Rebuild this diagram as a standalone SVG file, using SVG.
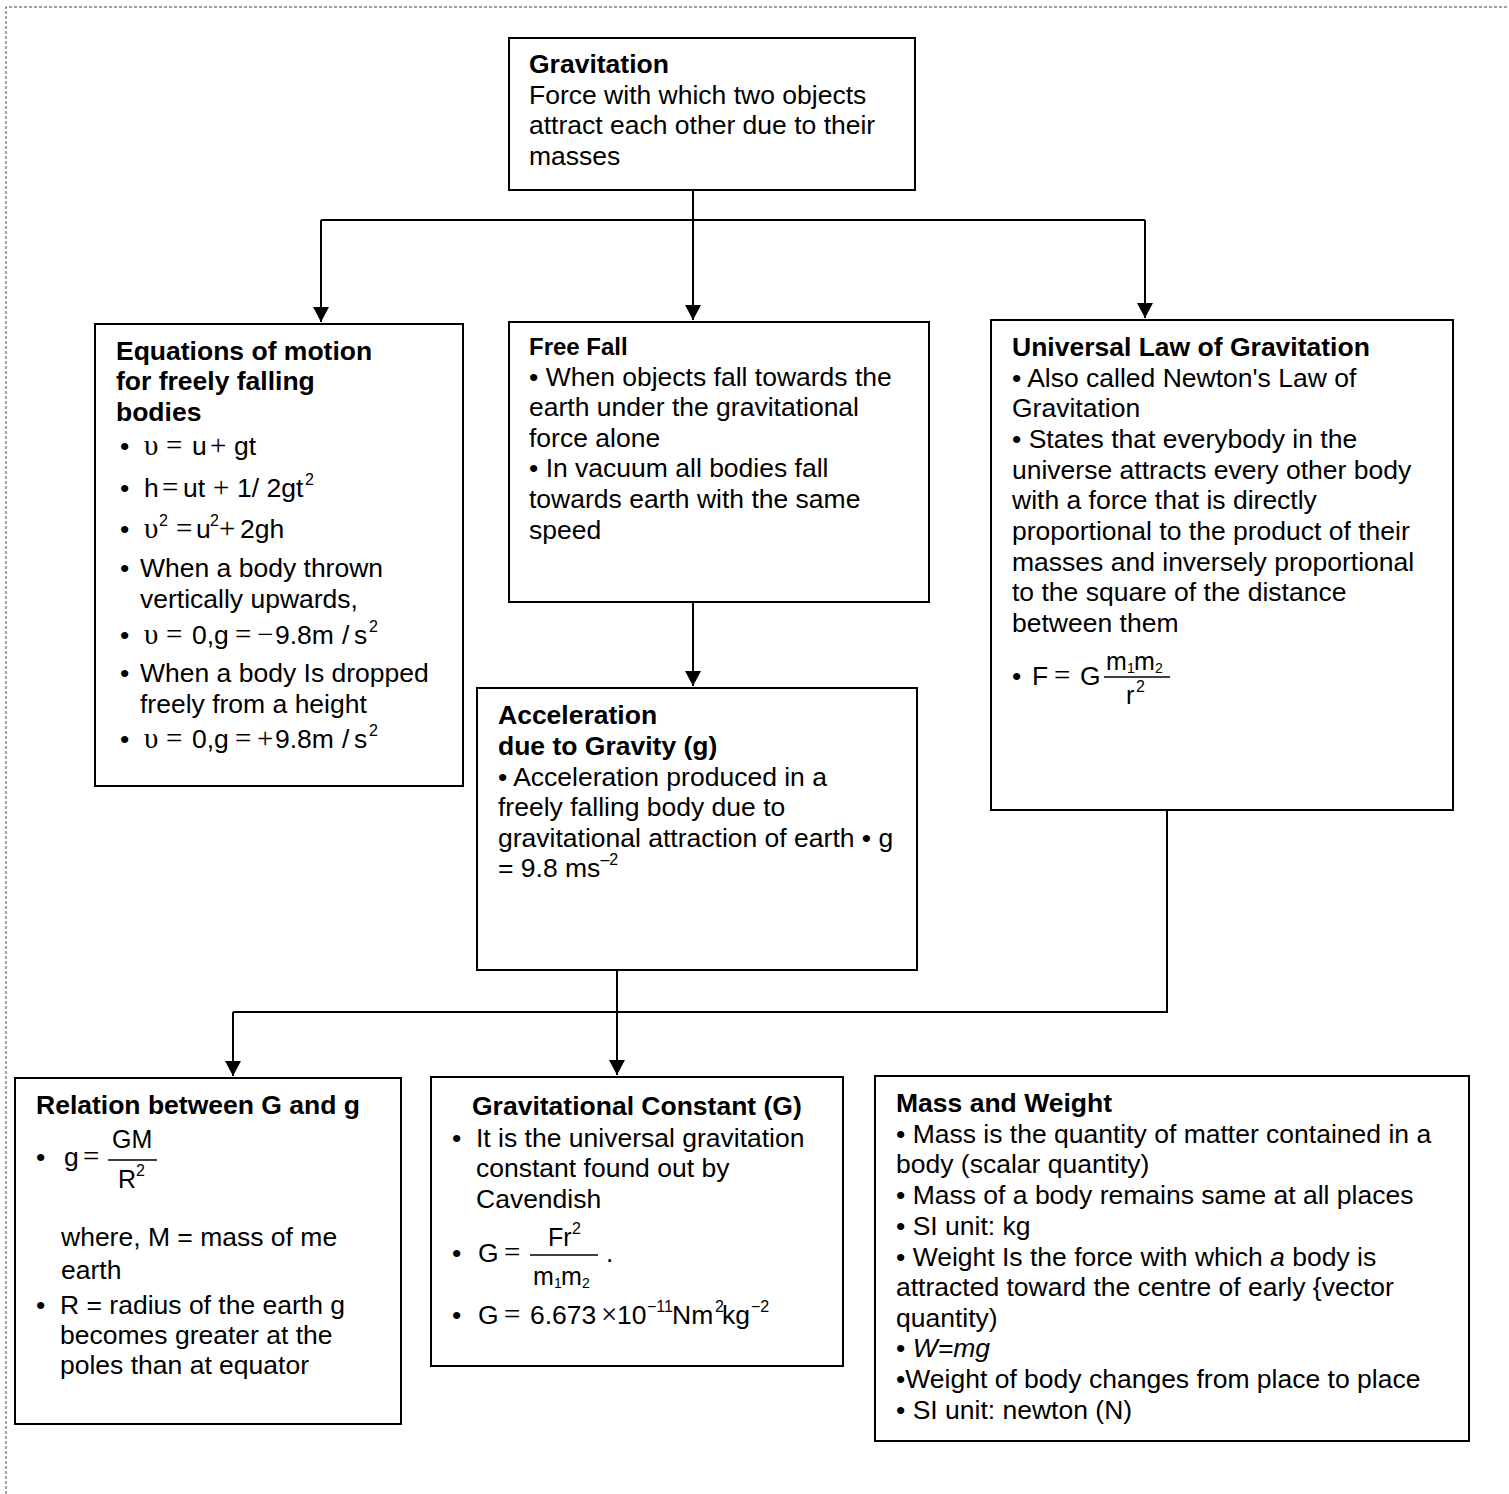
<svg xmlns="http://www.w3.org/2000/svg" width="1509" height="1494" viewBox="0 0 1509 1494">
<style>
.box{fill:#fff;stroke:#000;stroke-width:2}
.t{font-family:"Liberation Sans",Arial,sans-serif;font-size:26.5px;fill:#000}
.b{font-weight:bold}
.ff{font-size:24px}
.s{font-family:"Liberation Serif","Times New Roman",serif;font-size:29px}
.sup{font-size:16px}
.sub{font-size:14px}
.sm{font-size:25px}
.conn{stroke:#000;stroke-width:2;fill:none}
.border{stroke:#444;stroke-width:1;stroke-dasharray:3 2;fill:none}
.frac{stroke:#000;stroke-width:1.3}
</style>
<defs>
<marker id="arr" viewBox="0 0 15 16" refX="15" refY="8" markerWidth="15" markerHeight="16" markerUnits="userSpaceOnUse" orient="auto">
<path d="M0,0 L15,8 L0,16 z" fill="#000"/>
</marker>
</defs>
<rect width="1509" height="1494" fill="#fff"/>
<path class="border" d="M6,1494 V7 H1509"/>

<g id="connectors">
<path class="conn" d="M693,190 V220"/>
<path class="conn" d="M321,220 H1145"/>
<path class="conn" d="M321,220 V322" marker-end="url(#arr)"/>
<path class="conn" d="M693,220 V320" marker-end="url(#arr)"/>
<path class="conn" d="M1145,220 V318" marker-end="url(#arr)"/>
<path class="conn" d="M693,602 V686" marker-end="url(#arr)"/>
<path class="conn" d="M617,970 V1075" marker-end="url(#arr)"/>
<path class="conn" d="M1167,810 V1012 H233"/>
<path class="conn" d="M233,1012 V1076" marker-end="url(#arr)"/>
</g>

<g id="gravitation">
<rect class="box" x="509" y="38" width="406" height="152"/>
<text class="t b" x="529" y="73">Gravitation</text>
<text class="t" x="529" y="104">Force with which two objects</text>
<text class="t" x="529" y="134">attract each other due to their</text>
<text class="t" x="529" y="165">masses</text>
</g>

<g id="equations">
<rect class="box" x="95" y="324" width="368" height="462"/>
<text class="t b" x="116" y="360">Equations of motion</text>
<text class="t b" x="116" y="390">for freely falling</text>
<text class="t b" x="116" y="421">bodies</text>
<text class="t" y="455"><tspan x="120">•</tspan><tspan class="s" x="144">υ</tspan><tspan class="s" x="166">=</tspan><tspan x="192">u</tspan><tspan class="s" x="210">+</tspan><tspan x="234">gt</tspan></text>
<text class="t" y="497"><tspan x="120">•</tspan><tspan x="144">h</tspan><tspan class="s" x="162">=</tspan><tspan x="183">ut</tspan><tspan class="s" x="213">+</tspan><tspan x="237">1/ 2gt</tspan><tspan class="sup" x="305" dy="-12">2</tspan></text>
<text class="t" y="538"><tspan x="120">•</tspan><tspan class="s" x="144">υ</tspan><tspan class="sup" x="159" dy="-12">2</tspan><tspan class="s" x="176" dy="12">=</tspan><tspan x="196">u</tspan><tspan class="sup" x="210" dy="-12">2</tspan><tspan class="s" x="219" dy="12">+</tspan><tspan x="240">2gh</tspan></text>
<text class="t" y="577"><tspan x="120">•</tspan><tspan x="140">When a body thrown</tspan></text>
<text class="t" x="140" y="608">vertically upwards,</text>
<text class="t" y="644"><tspan x="120">•</tspan><tspan class="s" x="144">υ</tspan><tspan class="s" x="166">=</tspan><tspan x="192">0,g</tspan><tspan class="s" x="235">=</tspan><tspan class="s" x="257">−</tspan><tspan x="275">9.8m</tspan><tspan x="342">/</tspan><tspan x="354">s</tspan><tspan class="sup" x="369" dy="-12">2</tspan></text>
<text class="t" y="682"><tspan x="120">•</tspan><tspan x="140">When a body Is dropped</tspan></text>
<text class="t" x="140" y="713">freely from a height</text>
<text class="t" y="748"><tspan x="120">•</tspan><tspan class="s" x="144">υ</tspan><tspan class="s" x="166">=</tspan><tspan x="192">0,g</tspan><tspan class="s" x="235">=</tspan><tspan class="s" x="257">+</tspan><tspan x="275">9.8m</tspan><tspan x="342">/</tspan><tspan x="354">s</tspan><tspan class="sup" x="369" dy="-12">2</tspan></text>
</g>

<g id="freefall">
<rect class="box" x="509" y="322" width="420" height="280"/>
<text class="t b ff" x="529" y="355">Free Fall</text>
<text class="t" x="529" y="386">• When objects fall towards the</text>
<text class="t" x="529" y="416">earth under the gravitational</text>
<text class="t" x="529" y="447">force alone</text>
<text class="t" x="529" y="477">• In vacuum all bodies fall</text>
<text class="t" x="529" y="508">towards earth with the same</text>
<text class="t" x="529" y="539">speed</text>
</g>

<g id="universal">
<rect class="box" x="991" y="320" width="462" height="490"/>
<text class="t b" x="1012" y="356">Universal Law of Gravitation</text>
<text class="t" x="1012" y="387">• Also called Newton's Law of</text>
<text class="t" x="1012" y="417">Gravitation</text>
<text class="t" x="1012" y="448">• States that everybody in the</text>
<text class="t" x="1012" y="479">universe attracts every other body</text>
<text class="t" x="1012" y="509">with a force that is directly</text>
<text class="t" x="1012" y="540">proportional to the product of their</text>
<text class="t" x="1012" y="571">masses and inversely proportional</text>
<text class="t" x="1012" y="601">to the square of the distance</text>
<text class="t" x="1012" y="632">between them</text>
<text class="t" y="685"><tspan x="1012">•</tspan><tspan x="1032">F</tspan><tspan class="s" x="1054">=</tspan><tspan x="1080">G</tspan></text>
<text class="t sm" y="670"><tspan x="1106">m</tspan><tspan class="sub" x="1127" dy="3">1</tspan><tspan x="1134" dy="-3">m</tspan><tspan class="sub" x="1155" dy="3">2</tspan></text>
<path class="frac" d="M1104,677 H1170"/>
<text class="t sm" y="704"><tspan x="1126">r</tspan><tspan class="sup" x="1136" dy="-12">2</tspan></text>
</g>

<g id="acceleration">
<rect class="box" x="477" y="688" width="440" height="282"/>
<text class="t b" x="498" y="724">Acceleration</text>
<text class="t b" x="498" y="755">due to Gravity (g)</text>
<text class="t" x="498" y="786">• Acceleration produced in a</text>
<text class="t" x="498" y="816">freely falling body due to</text>
<text class="t" x="498" y="847">gravitational attraction of earth • g</text>
<text class="t" x="498" y="877">= 9.8 ms<tspan class="sup" dy="-12">–2</tspan></text>
</g>

<g id="relation">
<rect class="box" x="15" y="1078" width="386" height="346"/>
<text class="t b" x="36" y="1114">Relation between G and g</text>
<text class="t" y="1166"><tspan x="36">•</tspan><tspan x="64">g</tspan><tspan class="s" x="83">=</tspan></text>
<text class="t sm" x="112" y="1148">GM</text>
<path class="frac" d="M108,1160 H157"/>
<text class="t sm" y="1188"><tspan x="118">R</tspan><tspan class="sup" x="136" dy="-12">2</tspan></text>
<text class="t" x="61" y="1246">where, M = mass of me</text>
<text class="t" x="61" y="1279">earth</text>
<text class="t" y="1314"><tspan x="36">•</tspan><tspan x="60">R = radius of the earth g</tspan></text>
<text class="t" x="60" y="1344">becomes greater at the</text>
<text class="t" x="60" y="1374">poles than at equator</text>
</g>

<g id="gconstant">
<rect class="box" x="431" y="1077" width="412" height="289"/>
<text class="t b" x="472" y="1115">Gravitational Constant (G)</text>
<text class="t" y="1147"><tspan x="452">•</tspan><tspan x="476">It is the universal gravitation</tspan></text>
<text class="t" x="476" y="1177">constant found out by</text>
<text class="t" x="476" y="1208">Cavendish</text>
<text class="t" y="1262"><tspan x="452">•</tspan><tspan x="478">G</tspan><tspan class="s" x="504">=</tspan></text>
<text class="t sm" y="1246"><tspan x="548">Fr</tspan><tspan class="sup" x="572" dy="-12">2</tspan></text>
<path class="frac" d="M530,1255 H598"/>
<text class="t sm" y="1285"><tspan x="533">m</tspan><tspan class="sub" x="554" dy="3">1</tspan><tspan x="561" dy="-3">m</tspan><tspan class="sub" x="582" dy="3">2</tspan></text>
<text class="t" x="606" y="1262">.</text>
<text class="t" y="1324"><tspan x="452">•</tspan><tspan x="478">G</tspan><tspan class="s" x="504">=</tspan><tspan x="530">6.673</tspan><tspan class="s" x="601">×</tspan><tspan x="617">10</tspan><tspan class="sup" x="647" dy="-12">−11</tspan><tspan x="672" dy="12">Nm</tspan><tspan class="sup" x="715" dy="-12">2</tspan><tspan x="722" dy="12">kg</tspan><tspan class="sup" x="751" dy="-12">−2</tspan></text>
</g>

<g id="massweight">
<rect class="box" x="875" y="1076" width="594" height="365"/>
<text class="t b" x="896" y="1112">Mass and Weight</text>
<text class="t" x="896" y="1143">• Mass is the quantity of matter contained in a</text>
<text class="t" x="896" y="1173">body (scalar quantity)</text>
<text class="t" x="896" y="1204">• Mass of a body remains same at all places</text>
<text class="t" x="896" y="1235">• SI unit: kg</text>
<text class="t" x="896" y="1266">• Weight Is the force with which <tspan font-style="italic">a</tspan> body is</text>
<text class="t" x="896" y="1296">attracted toward the centre of early {vector</text>
<text class="t" x="896" y="1327">quantity)</text>
<text class="t" x="896" y="1357">• <tspan font-style="italic">W=mg</tspan></text>
<text class="t" x="896" y="1388">•Weight of body changes from place to place</text>
<text class="t" x="896" y="1419">• SI unit: newton (N)</text>
</g>
</svg>
